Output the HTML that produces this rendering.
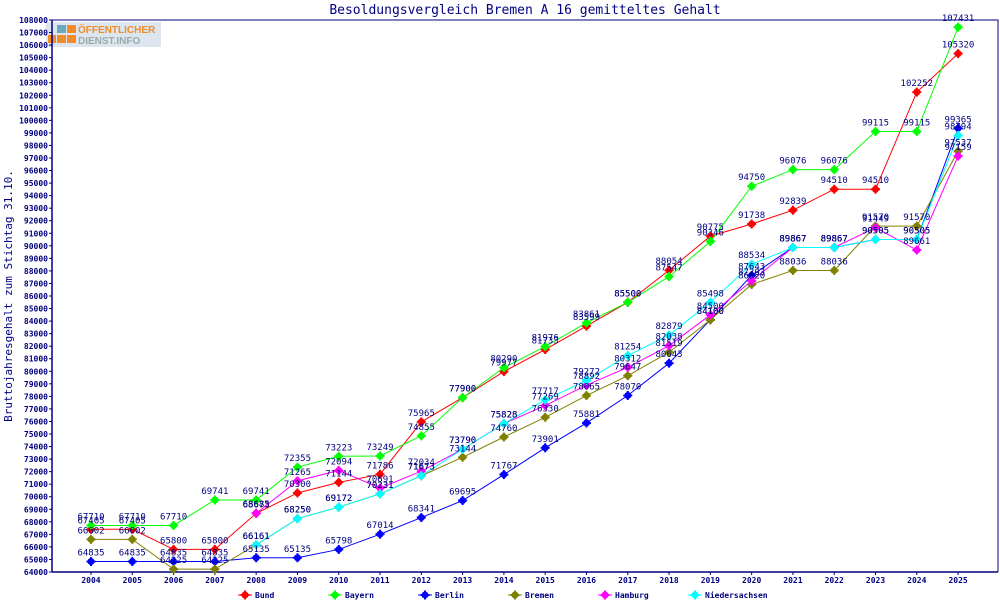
<!DOCTYPE html>
<html><head><meta charset="utf-8"><style>
html,body{margin:0;padding:0;background:#fff;}
svg{display:block;font-family:"DejaVu Sans Mono","Liberation Mono",monospace;}
</style></head><body>
<svg id="s" width="1000" height="600" xmlns="http://www.w3.org/2000/svg">
<rect width="1000" height="600" fill="#fff"/>
<text x="525" y="14" text-anchor="middle" font-size="13" fill="#000080">Besoldungsvergleich Bremen A 16 gemitteltes Gehalt</text>
<text transform="translate(12,296) rotate(-90)" text-anchor="middle" font-size="11" fill="#000080">Bruttojahresgehalt zum Stichtag 31.10.</text>
<rect x="46" y="22" width="115" height="25" fill="#dde6ee"/>
<rect x="57" y="25" width="9" height="8" fill="#6aa9bd"/><rect x="67" y="25" width="9" height="8" fill="#f28c28"/>
<rect x="48" y="35" width="8" height="8" fill="#f28c28"/><rect x="57" y="35" width="9" height="8" fill="#f28c28"/><rect x="67" y="35" width="9" height="8" fill="#f28c28"/>
<text x="78" y="33" font-family="Liberation Sans,sans-serif" font-weight="bold" font-size="10" fill="#f28c28">ÖFFENTLICHER</text>
<text x="78" y="44" font-family="Liberation Sans,sans-serif" font-weight="bold" font-size="10" fill="#9aa">DIENST.INFO</text>
<g id="g"></g>
</svg>
<script>
var g=document.getElementById('g'),h='';
var X0=52,X1=998,Y0=20,Y1=572;
function X(i){return 91+i*41.29;}
function Y(v){return Y1-(v-64000)*(Y1-Y0)/44000;}
h+='<polyline points="'+X0+','+Y0+' '+X1+','+Y0+' '+X1+','+Y1+'" fill="none" stroke="#000080"/>';
h+='<line x1="'+X0+'" y1="'+Y0+'" x2="'+X0+'" y2="'+Y1+'" stroke="#000080" stroke-width="1.5"/>';
h+='<line x1="'+X0+'" y1="'+Y1+'" x2="'+X1+'" y2="'+Y1+'" stroke="#000080" stroke-width="1.5"/>';
for(var v=64000;v<=108000;v+=1000){var y=Y(v);h+='<line x1="'+(X0-3)+'" y1="'+y+'" x2="'+X0+'" y2="'+y+'" stroke="#000080"/><text x="'+(X0-4)+'" y="'+(y+3)+'" text-anchor="end" font-size="8" font-weight="bold" fill="#000080">'+v+'</text>';}
for(var i=0;i<22;i++){var x=X(i);h+='<line x1="'+x+'" y1="'+Y1+'" x2="'+x+'" y2="'+(Y1+3)+'" stroke="#000080"/><text x="'+x+'" y="'+(Y1+11)+'" text-anchor="middle" font-size="8" font-weight="bold" fill="#000080">'+(2004+i)+'</text>';}
var S=[
["Bund","#ff0000",0,[67405,67405,65800,65800,68673,70300,71144,71786,75965,77900,79977,81733,83599,85500,88054,90775,91738,92839,94510,94510,102252,105320]],
["Bayern","#00ff00",0,[67710,67710,67710,69741,69741,72355,73223,73249,74855,77900,80290,81976,83861,85500,87547,90346,94750,96076,96076,99115,99115,107431]],
["Berlin","#0000ff",0,[64835,64835,64835,64835,65135,65135,65798,67014,68341,69695,71767,73901,75881,78070,80643,84100,87643,89867,89867,90505,90505,99365]],
["Bremen","#808000",0,[66602,66602,64225,64225,66161,68250,69172,70231,71673,73144,74760,76330,78065,79647,81519,84100,86920,88036,88036,91570,91570,97537]],
["Hamburg","#ff00ff",4,[0,0,0,0,68685,71265,72094,70691,72034,73790,75828,77269,78892,80312,82038,84500,87203,89867,89867,91449,89661,97159]],
["Niedersachsen","#00ffff",4,[0,0,0,0,66161,68250,69172,70231,71673,73790,75828,77717,79272,81254,82879,85498,88534,89867,89867,90505,90505,98794]]];
function mk(x,y,c){return '<circle cx="'+x+'" cy="'+y+'" r="3.5" fill="'+c+'"/><rect x="'+(x-4.5)+'" y="'+(y-1)+'" width="9" height="2" fill="'+c+'"/><rect x="'+(x-1)+'" y="'+(y-4.5)+'" width="2" height="9" fill="'+c+'"/>';}
var lbl='';
S.forEach(function(s){var p=[];for(var i=s[2];i<22;i++)p.push(X(i)+','+Y(s[3][i]));
h+='<polyline points="'+p.join(' ')+'" fill="none" stroke="'+s[1]+'" stroke-width="1"/>';
for(var i=s[2];i<22;i++){var x=X(i),y=Y(s[3][i]);h+=mk(x,y,s[1]);lbl+='<text x="'+x+'" y="'+(y-6)+'" text-anchor="middle" font-size="9" fill="#000080">'+s[3][i]+'</text>';}});
h+=lbl;
var lx=[238,328,418,508,598,688];
S.forEach(function(s,k){var x=lx[k],y=595;h+='<line x1="'+x+'" y1="'+y+'" x2="'+(x+14)+'" y2="'+y+'" stroke="'+s[1]+'"/>'+mk(x+7,y,s[1])+'<text x="'+(x+17)+'" y="'+(y+3)+'" font-size="8" font-weight="bold" fill="#000080">'+s[0]+'</text>';});
g.innerHTML=h;
</script>
</body></html>
